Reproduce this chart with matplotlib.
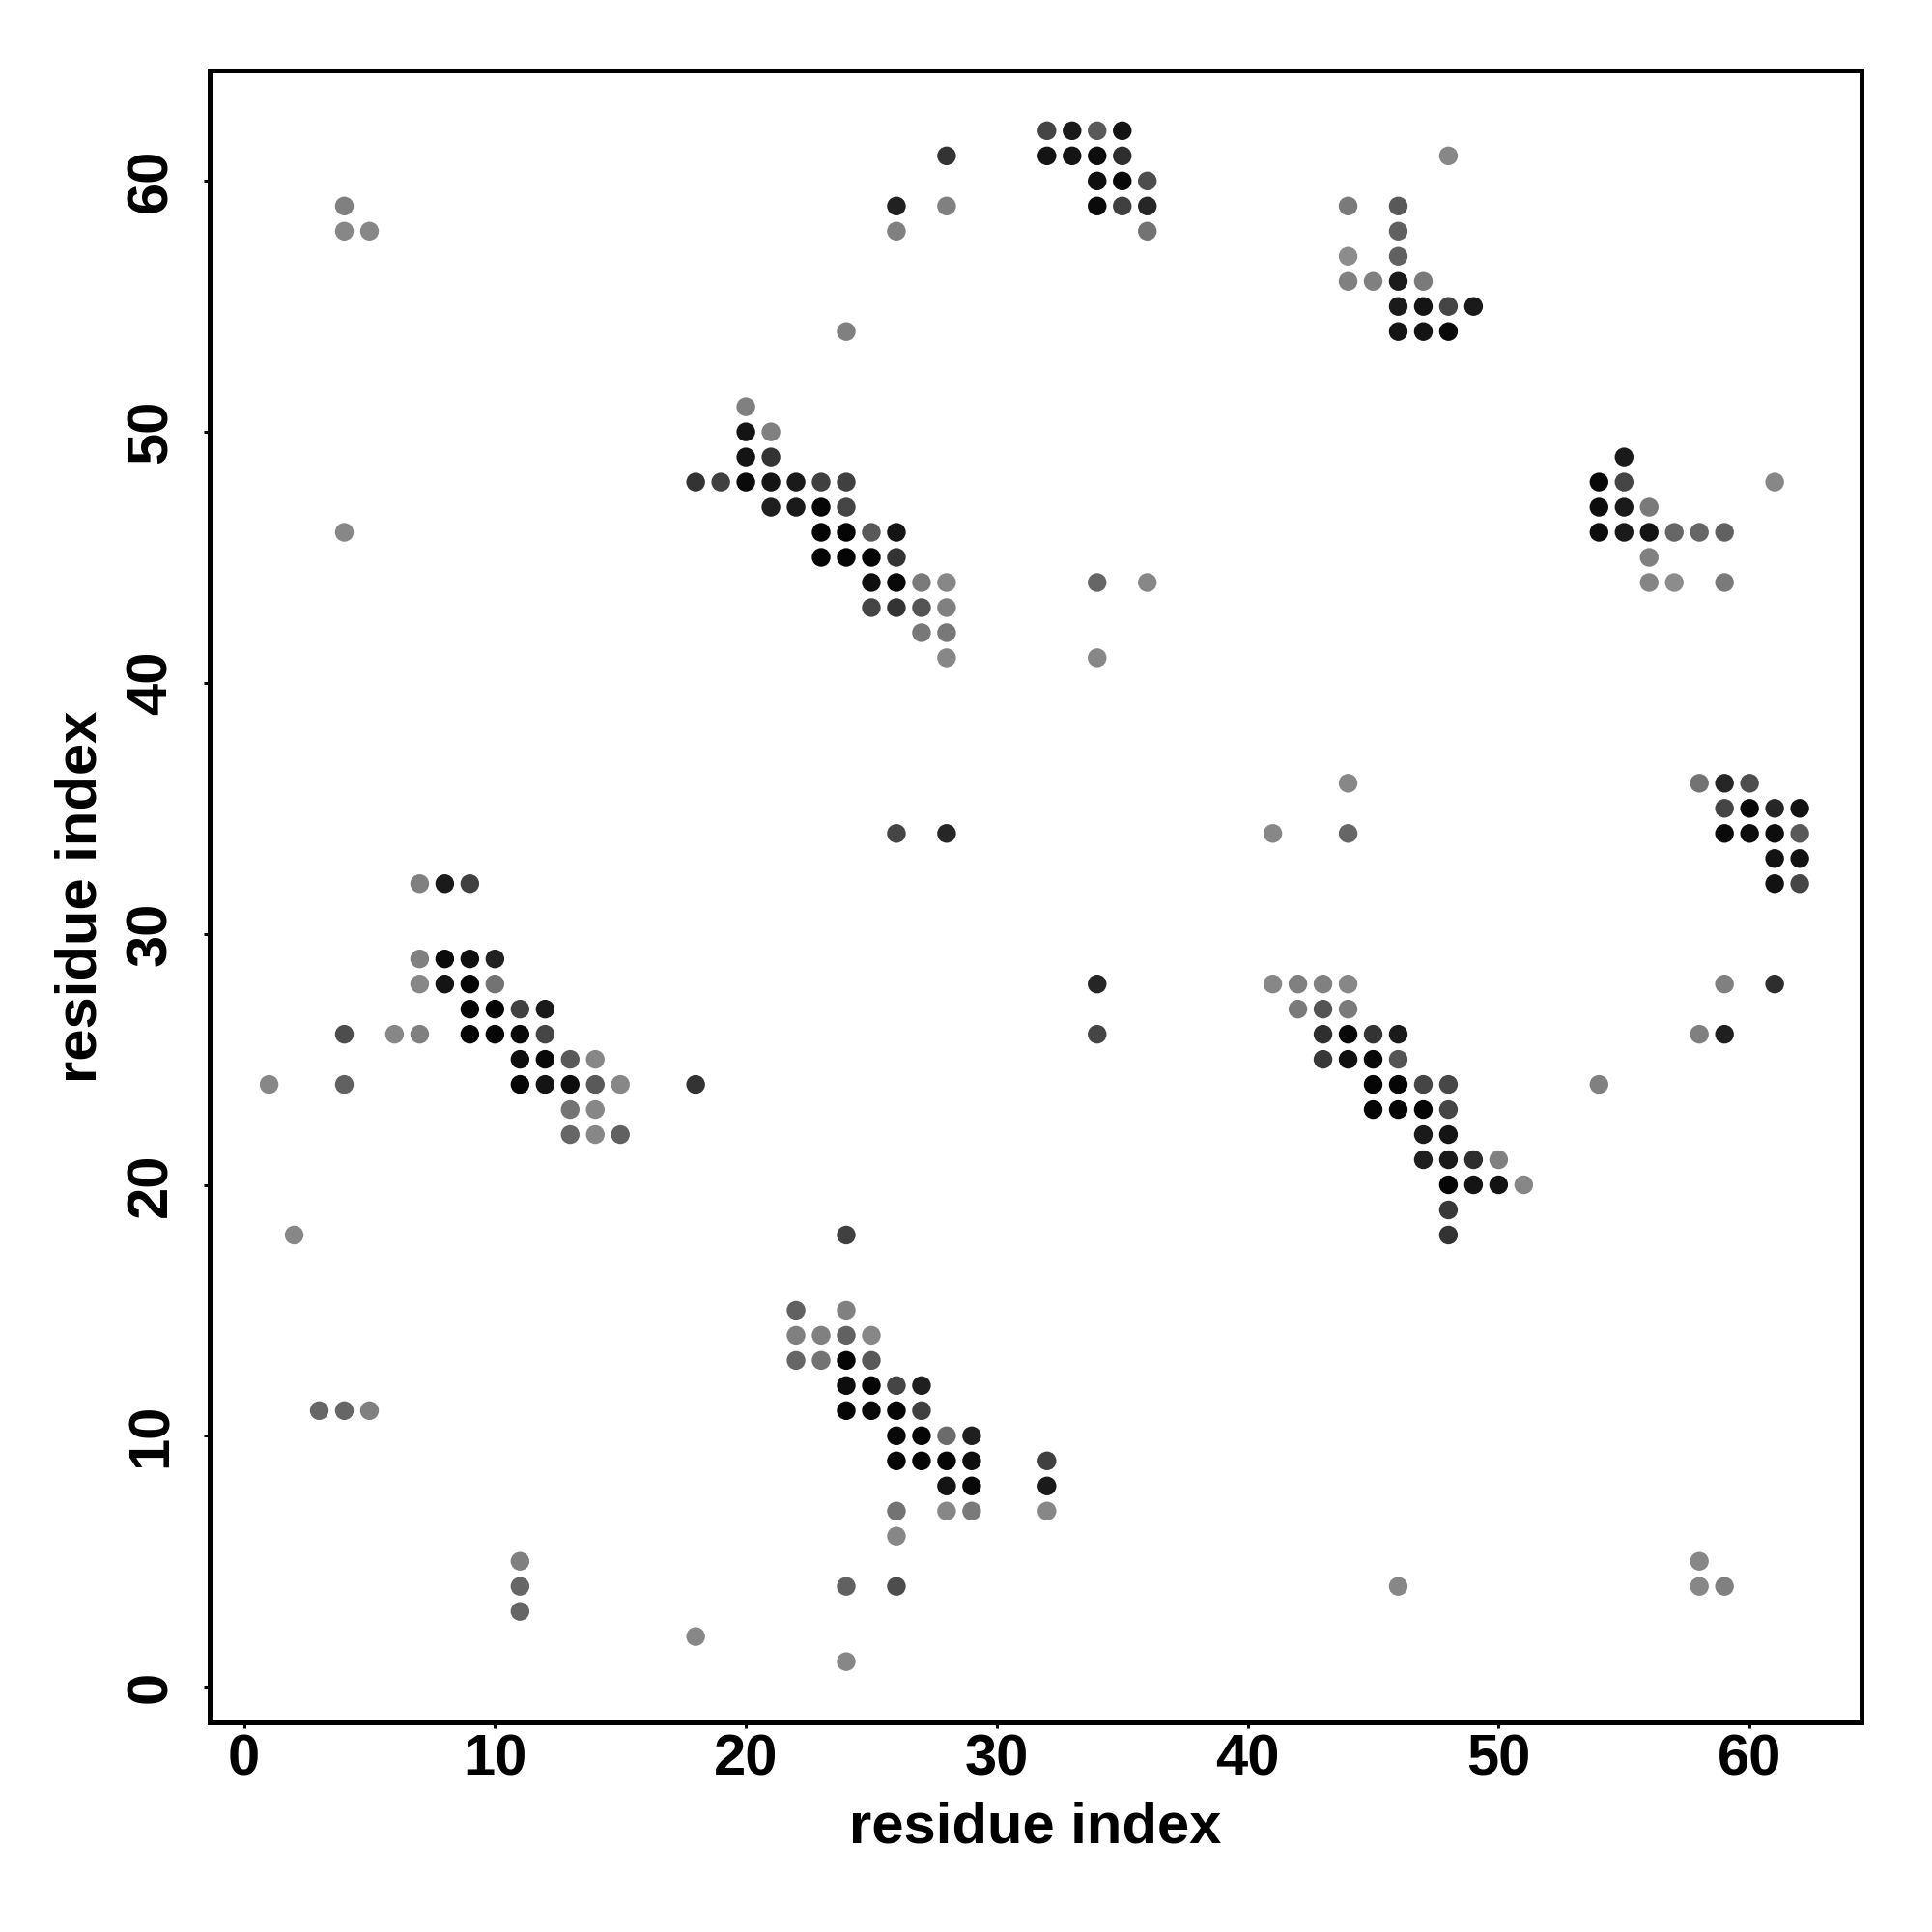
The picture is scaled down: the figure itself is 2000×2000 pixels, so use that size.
import matplotlib
matplotlib.use('Agg')
import matplotlib.pyplot as plt

# contact map: residue i, residue j, grey level of the dot (0 = black)
res_i = [
    32, 33, 34, 35,
    28, 32, 33, 34, 35, 48,
    34, 35, 36,
    4, 26, 28, 34, 35, 36, 44, 46,
    4, 5, 26, 36, 46,
    44, 46,
    44, 45, 46, 47,
    46, 47, 48, 49,
    24, 46, 47, 48,
    20,
    20, 21,
    20, 21, 55,
    18, 19, 20, 21, 22, 23, 24, 54, 55, 61,
    21, 22, 23, 24, 54, 55, 56,
    4, 23, 24, 25, 26, 54, 55, 56, 57, 58, 59,
    23, 24, 25, 26, 56,
    25, 26, 27, 28, 34, 36, 56, 57, 59,
    25, 26, 27, 28,
    27, 28,
    28, 34,
    44, 58, 59, 60,
    59, 60, 61, 62,
    26, 28, 41, 44, 59, 60, 61, 62,
    61, 62,
    7, 8, 9, 61, 62,
    7, 8, 9, 10,
    7, 8, 9, 10, 34, 41, 42, 43, 44, 59, 61,
    9, 10, 11, 12, 42, 43, 44,
    4, 6, 7, 9, 10, 11, 12, 34, 43, 44, 45, 46, 58, 59,
    11, 12, 13, 14, 43, 44, 45, 46,
    1, 4, 11, 12, 13, 14, 15, 18, 45, 46, 47, 48, 54,
    13, 14, 45, 46, 47, 48,
    13, 14, 15, 47, 48,
    47, 48, 49, 50,
    48, 49, 50, 51,
    48,
    2, 24, 48,
    22, 24,
    22, 23, 24, 25,
    22, 23, 24, 25,
    24, 25, 26, 27,
    3, 4, 5, 24, 25, 26, 27,
    26, 27, 28, 29,
    26, 27, 28, 29, 32,
    28, 29, 32,
    26, 28, 29, 32,
    26,
    11, 58,
    11, 24, 26, 46, 58, 59,
    11,
    18,
    24,
]
res_j = [
    62, 62, 62, 62,
    61, 61, 61, 61, 61, 61,
    60, 60, 60,
    59, 59, 59, 59, 59, 59, 59, 59,
    58, 58, 58, 58, 58,
    57, 57,
    56, 56, 56, 56,
    55, 55, 55, 55,
    54, 54, 54, 54,
    51,
    50, 50,
    49, 49, 49,
    48, 48, 48, 48, 48, 48, 48, 48, 48, 48,
    47, 47, 47, 47, 47, 47, 47,
    46, 46, 46, 46, 46, 46, 46, 46, 46, 46, 46,
    45, 45, 45, 45, 45,
    44, 44, 44, 44, 44, 44, 44, 44, 44,
    43, 43, 43, 43,
    42, 42,
    41, 41,
    36, 36, 36, 36,
    35, 35, 35, 35,
    34, 34, 34, 34, 34, 34, 34, 34,
    33, 33,
    32, 32, 32, 32, 32,
    29, 29, 29, 29,
    28, 28, 28, 28, 28, 28, 28, 28, 28, 28, 28,
    27, 27, 27, 27, 27, 27, 27,
    26, 26, 26, 26, 26, 26, 26, 26, 26, 26, 26, 26, 26, 26,
    25, 25, 25, 25, 25, 25, 25, 25,
    24, 24, 24, 24, 24, 24, 24, 24, 24, 24, 24, 24, 24,
    23, 23, 23, 23, 23, 23,
    22, 22, 22, 22, 22,
    21, 21, 21, 21,
    20, 20, 20, 20,
    19,
    18, 18, 18,
    15, 15,
    14, 14, 14, 14,
    13, 13, 13, 13,
    12, 12, 12, 12,
    11, 11, 11, 11, 11, 11, 11,
    10, 10, 10, 10,
    9, 9, 9, 9, 9,
    8, 8, 8,
    7, 7, 7, 7,
    6,
    5, 5,
    4, 4, 4, 4, 4, 4,
    3,
    2,
    1,
]
shade = [
    .27, .10, .35, .08,
    .20, .08, .08, .05, .18, .53,
    .06, .03, .30,
    .50, .13, .50, .04, .25, .15, .48, .35,
    .53, .53, .50, .45, .38,
    .55, .38,
    .50, .50, .10, .48,
    .10, .08, .27, .10,
    .50, .08, .08, .03,
    .50,
    .08, .50,
    .08, .20, .10,
    .20, .25, .04, .08, .10, .25, .25, .03, .27, .53,
    .12, .10, .02, .27, .05, .10, .48,
    .53, .02, .02, .35, .08, .05, .10, .08, .40, .40, .38,
    .02, .02, .02, .20, .50,
    .06, .03, .48, .53, .40, .53, .52, .55, .48,
    .27, .20, .33, .50,
    .47, .47,
    .53, .53,
    .53, .45, .15, .30,
    .27, .03, .15, .07,
    .27, .15, .53, .40, .04, .05, .05, .35,
    .07, .07,
    .50, .10, .25, .07, .27,
    .50, .04, .06, .13,
    .53, .08, .02, .45, .15, .53, .50, .50, .53, .50, .18,
    .02, .02, .25, .10, .48, .33, .48,
    .30, .53, .50, .02, .02, .03, .27, .27, .18, .03, .20, .10, .50, .12,
    .05, .03, .35, .53, .22, .06, .03, .33,
    .53, .38, .02, .08, .05, .35, .53, .20, .02, .02, .27, .28, .50,
    .45, .53, .02, .02, .02, .27,
    .40, .53, .38, .10, .08,
    .12, .10, .18, .50,
    .02, .08, .07, .53,
    .22,
    .53, .25, .20,
    .38, .50,
    .50, .50, .38, .53,
    .40, .45, .02, .35,
    .05, .02, .27, .12,
    .40, .40, .50, .02, .04, .02, .25,
    .03, .02, .42, .12,
    .02, .02, .02, .06, .25,
    .08, .03, .10,
    .45, .53, .48, .53,
    .53,
    .50, .53,
    .40, .38, .30, .53, .53, .50,
    .40,
    .53,
    .53,
]

plt.rcParams['font.family'] = ['Liberation Sans', 'DejaVu Sans']
plt.rcParams['font.weight'] = 'bold'

fig = plt.figure(figsize=(20, 20), dpi=100)
ax = fig.add_axes([0.1085, 0.1085, 0.855, 0.855])

colors = [(g, g, g) for g in shade]
ax.scatter(res_i, res_j, s=195, c=colors, linewidths=0)

ax.set_xlim(-1.37, 64.46)
ax.set_ylim(-1.42, 64.4)
ax.set_xticks(range(0, 61, 10))
ax.set_yticks(range(0, 61, 10))
ax.tick_params(direction='out', length=4.5, width=2.2, labelsize=43)
ax.tick_params(axis='x', pad=3.5)
ax.tick_params(axis='y', pad=19)
for lab in ax.get_yticklabels():
    lab.set_rotation(90)
    lab.set_va('center')
for sp in ax.spines.values():
    sp.set_linewidth(3.6)

ax.set_xlabel('residue index', fontsize=43, fontweight='bold')
ax.set_ylabel('residue index', fontsize=43, fontweight='bold')
ax.xaxis.set_label_coords(0.5, -0.064)
ax.xaxis.label.set_va('center')
ax.yaxis.set_label_coords(-0.078, 0.5)
ax.yaxis.label.set_va('center')

fig.savefig('out.png', dpi=100, facecolor='white')
